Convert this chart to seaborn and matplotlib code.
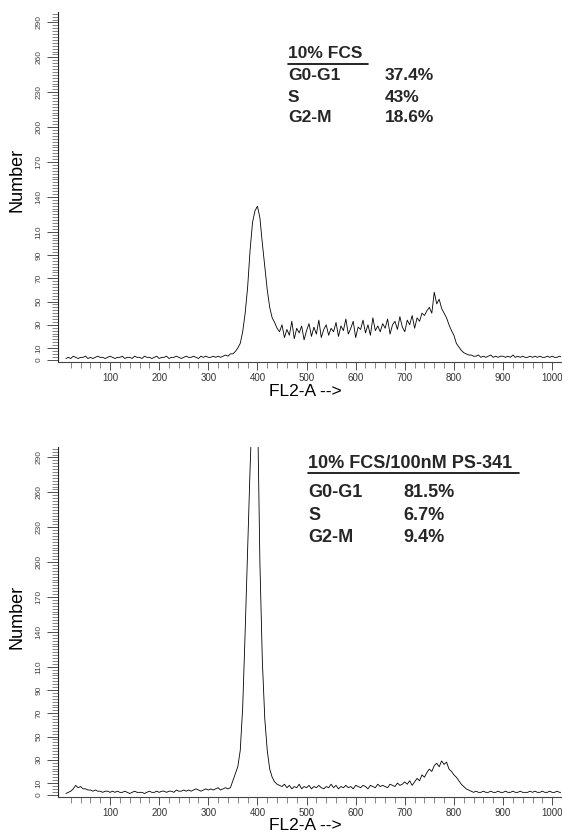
import numpy as np
import pandas as pd
import matplotlib
matplotlib.use("Agg")
import matplotlib.pyplot as plt
from matplotlib.lines import Line2D
import seaborn as sns

# ---------------- data ----------------
channels = list(range(10, 1021, 5))  # FL2-A channel

fcs_counts = [
    1, 2, 1, 3, 2, 1, 2, 2, 3, 1,        # 10-55
    2, 1, 2, 3, 2, 2, 1, 2, 3, 2,        # 60-105
    1, 2, 2, 3, 1, 2, 2, 1, 3, 2,        # 110-155
    2, 1, 3, 2, 2, 1, 2, 3, 1, 2,        # 160-205
    2, 3, 1, 2, 2, 3, 2, 1, 2, 3,        # 210-255
    2, 2, 3, 2, 1, 3, 2, 3, 2, 2,        # 260-305
    3, 2, 3, 2, 3, 4, 3, 5, 5, 7,        # 310-355
    10, 14, 24, 40, 62, 94, 118, 128, 132, 122,   # 360-405
    100, 80, 60, 45, 36, 32, 27, 24, 30, 19,      # 410-455
    26, 21, 33, 18, 27, 23, 29, 17, 25, 31,       # 460-505
    20, 28, 22, 34, 19, 26, 30, 21, 27, 24,       # 510-555
    32, 20, 29, 25, 35, 22, 27, 33, 19, 28,       # 560-605
    26, 34, 23, 30, 21, 36, 25, 29, 24, 31,       # 610-655
    27, 35, 22, 30, 33, 26, 37, 28, 24, 34,       # 660-705
    30, 38, 27, 36, 33, 40, 38, 42, 45, 40,       # 710-755
    58, 48, 52, 44, 40, 36, 30, 25, 21, 14,       # 760-805
    11, 8, 6, 5, 4, 4, 3, 3, 4, 2,                # 810-855
    3, 2, 3, 4, 2, 3, 2, 3, 3, 2,                 # 860-905
    3, 2, 4, 2, 3, 2, 3, 2, 2, 3,                 # 910-955
    2, 3, 2, 3, 2, 2, 3, 2, 3, 2,                 # 960-1005
    2, 3, 2,                                      # 1010-1020
]

ps341_counts = [
    1, 2, 3, 5, 8, 6, 7, 5, 5, 4,        # 10-55
    4, 3, 4, 3, 3, 2, 3, 3, 2, 3,        # 60-105
    2, 3, 2, 2, 3, 2, 1, 2, 3, 2,        # 110-155
    2, 2, 1, 2, 3, 2, 2, 3, 2, 3,        # 160-205
    3, 2, 3, 3, 2, 4, 3, 3, 4, 3,        # 210-255
    4, 3, 4, 5, 4, 3, 4, 5, 4, 5,        # 260-305
    4, 5, 6, 4, 5, 6, 5, 6, 12, 18,      # 310-355
    24, 38, 75, 140, 210, 280, 340, 380, 340, 200,  # 360-405
    115, 65, 38, 22, 15, 11, 9, 8, 7, 9,            # 410-455
    6, 8, 5, 7, 6, 9, 5, 7, 6, 8,        # 460-505
    5, 7, 6, 8, 6, 5, 7, 6, 9, 6,        # 510-555
    8, 5, 7, 6, 8, 6, 7, 5, 8, 7,        # 560-605
    6, 8, 7, 5, 8, 7, 6, 9, 7, 8,        # 610-655
    7, 6, 9, 8, 7, 10, 8, 9, 11, 9,      # 660-705
    12, 8, 11, 14, 12, 17, 15, 19, 22, 20,  # 710-755
    25, 27, 24, 29, 26, 28, 22, 20, 17, 15,  # 760-805
    12, 9, 7, 5, 4, 3, 2, 3, 2, 2,       # 810-855
    3, 2, 2, 3, 2, 2, 3, 2, 2, 3,        # 860-905
    2, 2, 3, 2, 2, 3, 2, 2, 2, 3,        # 910-955
    2, 3, 2, 2, 3, 2, 2, 3, 2, 2,        # 960-1005
    3, 2, 2,                             # 1010-1020
]

y_tick_values = [0, 10, 30, 50, 70, 90, 110, 140, 170, 200, 230, 260, 290]
x_tick_values = [100, 200, 300, 400, 500, 600, 700, 800, 900, 1000]

panel_titles = ["10% FCS", "10% FCS/100nM PS-341"]
phase_names = ["G0-G1", "S", "G2-M"]
fcs_phase_pct = ["37.4%", "43%", "18.6%"]
ps341_phase_pct = ["81.5%", "6.7%", "9.4%"]

# ---------------- style ----------------
sns.set_style("ticks")
plt.rcParams["font.family"] = ["Liberation Sans", "DejaVu Sans"]

W, H = 562, 832
fig = plt.figure(figsize=(W / 100, H / 100), dpi=100)


def fx(px):
    return px / W


def fy(py):
    return 1 - py / H


def make_axes(top_px, bottom_px):
    left, right = 58, 561
    return fig.add_axes([fx(left), fy(bottom_px), (right - left) / W, (bottom_px - top_px) / H])


ax1 = make_axes(12, 362)
ax2 = make_axes(447, 797)

df1 = pd.DataFrame({"channel": channels, "count": fcs_counts})
df2 = pd.DataFrame({"channel": channels, "count": ps341_counts})

for ax, df in [(ax1, df1), (ax2, df2)]:
    sns.lineplot(data=df, x="channel", y="count", ax=ax, color="black", linewidth=0.6)
    ax.set_xlim(-6, 1018)
    ax.set_ylim(-2, 299)
    sns.despine(ax=ax)
    ax.spines["left"].set_linewidth(0.8)
    ax.spines["bottom"].set_linewidth(0.8)
    ax.spines["left"].set_color("#222222")
    ax.spines["bottom"].set_color("#444444")
    ax.set_xticks(x_tick_values)
    ax.set_xticks([v for v in range(20, 1020, 20) if v % 100 != 0], minor=True)
    ax.set_yticks(y_tick_values)
    ax.set_yticks(list(np.arange(0, 298, 2.5)), minor=True)
    ax.set_yticklabels([str(v) for v in y_tick_values], rotation=90, va="center",
                       fontsize=6, color="#444444")
    ax.set_xticklabels([str(v) for v in x_tick_values], fontsize=7, color="#333333")
    ax.tick_params(axis="y", which="major", length=8, width=0.6, pad=3, color="#333333")
    ax.tick_params(axis="y", which="minor", length=4, width=0.5, color="#555555")
    ax.tick_params(axis="x", which="major", length=6, width=0.6, pad=2, color="#333333")
    ax.tick_params(axis="x", which="minor", length=4, width=0.5, color="#555555")
    ax.set_xlabel("")
    ax.set_ylabel("")

# axis labels
for ycen in (180, 617):
    fig.text(fx(17), fy(ycen), "Number", rotation=90, ha="center", va="center",
             fontsize=13, color="black")
for ycen in (392, 826):
    fig.text(fx(305), fy(ycen), "FL2-A -->", ha="center", va="center",
             fontsize=12.5, color="black")


def phase_block(title, pcts, x_lab, x_val, y_title, y_rule, x_rule_end, y_rows, fs):
    fig.text(fx(x_lab), fy(y_title), title, ha="left", va="center",
             fontsize=fs, fontweight="bold")
    fig.add_artist(Line2D([fx(x_lab), fx(x_rule_end)], [fy(y_rule), fy(y_rule)],
                          color="black", linewidth=1.2, transform=fig.transFigure))
    for name, pct, yy in zip(phase_names, pcts, y_rows):
        fig.text(fx(x_lab), fy(yy), name, ha="left", va="center", fontsize=fs, fontweight="bold")
        fig.text(fx(x_val), fy(yy), pct, ha="left", va="center", fontsize=fs, fontweight="bold")


phase_block(panel_titles[0], fcs_phase_pct, 288, 385, 53, 64, 368, [75, 97, 118], 12.5)
phase_block(panel_titles[1], ps341_phase_pct, 308, 403, 463, 473, 519, [493, 515, 537], 13)

fig.savefig("out.png", dpi=100)
